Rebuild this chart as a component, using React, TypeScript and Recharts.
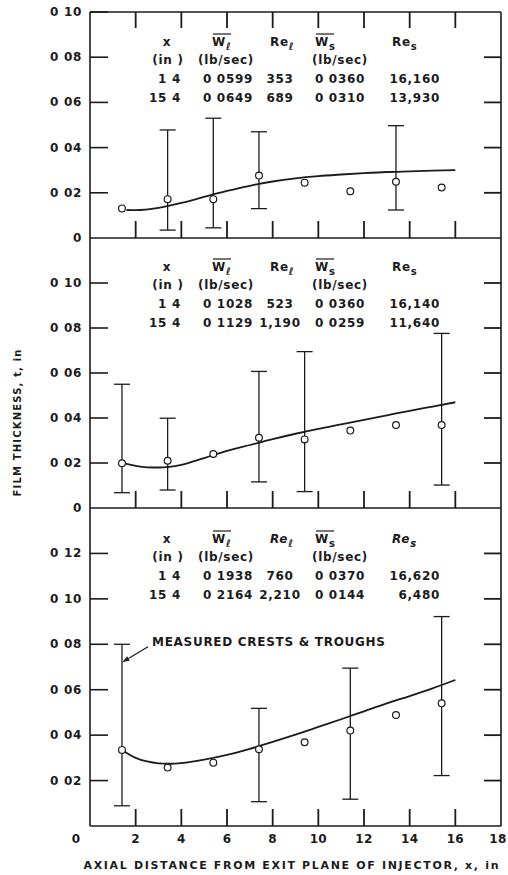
import React from 'react';
import { ComposedChart, Line, Scatter, XAxis, YAxis, ErrorBar, ReferenceLine } from 'recharts';

const W = 508;
const H = 875;
const ink = '#1b1b1b';
const font = '"DejaVu Sans", sans-serif';

// plot frame shared by the three panels
const plotLeft = 90;
const plotRight = 501;
const xMax = 18;

// axial stations, in
const stations = [1.4, 3.4, 5.4, 7.4, 9.4, 11.4, 13.4, 15.4];
const xTicks = [0, 2, 4, 6, 8, 10, 12, 14, 16, 18];

// panel 1 (lowest liquid flow)
const topMean = [0.0131, 0.0172, 0.0172, 0.0276, 0.0245, 0.0207, 0.0249, 0.0223];
const topLow = [null, 0.0035, 0.0045, 0.013, null, null, 0.0124, null];
const topHigh = [null, 0.0478, 0.053, 0.047, null, null, 0.0497, null];
const topFitX = [1.6, 2, 3, 4, 5, 6, 7, 8, 9, 10, 11, 12, 13, 14, 15, 16];
const topFit = [0.0124, 0.0123, 0.0133, 0.0155, 0.0182, 0.0208, 0.0231, 0.025, 0.0264, 0.0274, 0.0281, 0.0287, 0.0292, 0.0295, 0.0298, 0.03];

// panel 2
const midMean = [0.0199, 0.021, 0.024, 0.0312, 0.0305, 0.0344, 0.0369, 0.0369];
const midLow = [0.0068, 0.008, null, 0.0116, 0.0073, null, null, 0.0102];
const midHigh = [0.055, 0.0399, null, 0.0607, 0.0695, null, null, 0.0776];
const midFitX = [1.5, 2, 2.5, 3, 4, 5, 6, 7, 8, 9, 10, 11, 12, 13, 14, 15, 16];
const midFit = [0.0198, 0.0187, 0.0181, 0.018, 0.0192, 0.0222, 0.0254, 0.028, 0.0306, 0.033, 0.0352, 0.0372, 0.0392, 0.0412, 0.0432, 0.0451, 0.047];

// panel 3 (highest liquid flow)
const botMean = [0.0335, 0.0257, 0.0279, 0.0338, 0.0369, 0.042, 0.0489, 0.054];
const botLow = [0.0089, null, null, 0.0107, null, 0.0118, null, 0.0222];
const botHigh = [0.08, null, null, 0.0518, null, 0.0695, null, 0.0922];
const botFitX = [1.4, 2, 2.5, 3, 3.5, 4, 5, 6, 7, 8, 9, 10, 11, 12, 13, 14, 15, 16];
const botFit = [0.0335, 0.03, 0.0284, 0.0276, 0.0274, 0.0277, 0.0292, 0.0313, 0.034, 0.037, 0.0402, 0.0436, 0.047, 0.0505, 0.054, 0.0572, 0.0606, 0.0643];

// run conditions printed in each panel
const topTable = [
  ['1 4', '0 0599', '353', '0 0360', '16,160'],
  ['15 4', '0 0649', '689', '0 0310', '13,930'],
];
const midTable = [
  ['1 4', '0 1028', '523', '0 0360', '16,140'],
  ['15 4', '0 1129', '1,190', '0 0259', '11,640'],
];
const botTable = [
  ['1 4', '0 1938', '760', '0 0370', '16,620'],
  ['15 4', '0 2164', '2,210', '0 0144', '6,480'],
];

// callout on the first error bar of the lower panel
const noteFrom = { x: 2.54, y: 0.0789 };
const noteTo = { x: 1.42, y: 0.0722 };
const noteText = 'MEASURED CRESTS & TROUGHS';

const fmtY = (v: number) => (v === 0 ? '0' : '0 ' + String(Math.round(v * 100)).padStart(2, '0'));

const txt = {
  fontFamily: font,
  fontWeight: 'bold' as const,
  fontSize: 12,
  fill: ink,
  letterSpacing: 0.7,
};

const frame = { stroke: ink, strokeWidth: 1.6 };

type PanelDef = {
  fitX: number[];
  fit: number[];
  mean: number[];
  low: (number | null)[];
  high: (number | null)[];
  yMax: number;
  yTicks: number[];
  plotTop: number;
  plotBottom: number;
  topAxis?: boolean;
  xLabels?: boolean;
  note?: boolean;
};

const panels: PanelDef[] = [
  {
    fitX: topFitX, fit: topFit, mean: topMean, low: topLow, high: topHigh,
    yMax: 0.1, yTicks: [0, 0.02, 0.04, 0.06, 0.08, 0.1], plotTop: 12, plotBottom: 238, topAxis: true,
  },
  {
    fitX: midFitX, fit: midFit, mean: midMean, low: midLow, high: midHigh,
    yMax: 0.12, yTicks: [0, 0.02, 0.04, 0.06, 0.08, 0.1], plotTop: 238, plotBottom: 508,
  },
  {
    fitX: botFitX, fit: botFit, mean: botMean, low: botLow, high: botHigh,
    yMax: 0.14, yTicks: [0.02, 0.04, 0.06, 0.08, 0.1, 0.12], plotTop: 508, plotBottom: 826, xLabels: true, note: true,
  },
];

function buildPoints(mean: number[], low: (number | null)[], high: (number | null)[]) {
  const barred: any[] = [];
  const plain: any[] = [];
  stations.forEach((x, i) => {
    const lo = low[i];
    const hi = high[i];
    if (lo != null && hi != null) barred.push({ x, t: mean[i], err: [mean[i] - lo, hi - mean[i]] });
    else plain.push({ x, t: mean[i] });
  });
  return { barred, plain };
}

const Ring = (p: any) => <circle cx={p.cx} cy={p.cy} r={3.4} fill="#fff" stroke={ink} strokeWidth={1.2} />;

const LeftTick = (p: any) => {
  const v = p.payload.value;
  return (
    <g>
      {v > 0 && <line x1={p.x} x2={p.x + 18} y1={p.y} y2={p.y} stroke={ink} strokeWidth={1.6} />}
      <text x={p.x - 8} y={p.y} textAnchor="end" dominantBaseline="central" {...txt}>
        {fmtY(v)}
      </text>
    </g>
  );
};

const BottomLabel = (p: any) => {
  const v = p.payload.value;
  if (!p.labels) return <g />;
  const dx = v === 0 ? -14 : v === 18 ? -3 : 0;
  return (
    <text x={p.x + dx} y={p.y + 13} textAnchor="middle" dominantBaseline="central" {...txt} letterSpacing={0.3}>
      {v}
    </text>
  );
};

const NoteArrow = (p: any) => {
  const { x1, y1, x2, y2 } = p;
  const dx = x2 - x1;
  const dy = y2 - y1;
  const len = Math.hypot(dx, dy) || 1;
  const ux = dx / len;
  const uy = dy / len;
  const bx = x2 - ux * 7;
  const by = y2 - uy * 7;
  return (
    <g>
      <line x1={x1} y1={y1} x2={bx} y2={by} stroke={ink} strokeWidth={1.2} />
      <polygon
        points={`${x2},${y2} ${bx - uy * 2.6},${by + ux * 2.6} ${bx + uy * 2.6},${by - ux * 2.6}`}
        fill={ink}
      />
      <text x={x1 + 4} y={y1 - 5} dominantBaseline="central" textLength={233} lengthAdjust="spacing" {...txt} letterSpacing={0}>
        {noteText}
      </text>
    </g>
  );
};

function Panel({ fitX, fit, mean, low, high, yMax, yTicks, plotTop, plotBottom, topAxis, xLabels, note }: PanelDef) {
  const curve = fitX.map((x, i) => ({ x, t: fit[i] }));
  const { barred, plain } = buildPoints(mean, low, high);
  const axisH = 2;
  return (
    <div style={{ position: 'absolute', left: 0, top: 0 }}>
      <ComposedChart
        width={W}
        height={H}
        margin={{ top: plotTop - (topAxis ? axisH : 0), bottom: H - plotBottom - axisH, left: 0, right: 0 }}
      >
        <XAxis
          dataKey="x"
          type="number"
          domain={[0, xMax]}
          ticks={xTicks}
          interval={0}
          allowDataOverflow
          height={axisH}
          tickSize={0}
          tickMargin={0}
          axisLine={frame}
          tick={(p: any) => <BottomLabel {...p} labels={xLabels} />}
        />
        {topAxis && (
          <XAxis
            xAxisId="top"
            orientation="top"
            dataKey="x"
            type="number"
            domain={[0, xMax]}
            ticks={xTicks}
            interval={0}
            allowDataOverflow
            height={axisH}
            tickSize={0}
            tickMargin={0}
            axisLine={frame}
            tick={false}
          />
        )}
        <YAxis
          dataKey="t"
          type="number"
          domain={[0, yMax]}
          ticks={yTicks}
          interval={0}
          allowDataOverflow
          width={plotLeft}
          tickSize={0}
          tickMargin={0}
          axisLine={frame}
          tick={(p: any) => <LeftTick {...p} />}
        />
        <YAxis
          yAxisId="r"
          orientation="right"
          dataKey="t"
          type="number"
          domain={[0, yMax]}
          ticks={yTicks}
          interval={0}
          allowDataOverflow
          width={W - plotRight}
          tickSize={0}
          tickMargin={0}
          axisLine={frame}
          tick={false}
        />
        <Line data={curve} dataKey="t" type="monotone" stroke={ink} strokeWidth={1.8} dot={false} isAnimationActive={false} />
        <Scatter data={barred} dataKey="t" shape={Ring} isAnimationActive={false}>
          <ErrorBar dataKey="err" direction="y" width={8} stroke={ink} strokeWidth={1.3} />
        </Scatter>
        <Scatter data={plain} dataKey="t" shape={Ring} isAnimationActive={false} />
        {note && <ReferenceLine segment={[noteFrom, noteTo]} ifOverflow="visible" shape={NoteArrow} />}
      </ComposedChart>
    </div>
  );
}

// inward tick marks on the bottom, top and right borders of each panel
function FrameMarks() {
  const px = (v: number) => plotLeft + (v / xMax) * (plotRight - plotLeft);
  const inner = xTicks.filter((v) => v > 0 && v < xMax);
  return (
    <g>
      {panels.map((p, k) => {
        const py = (v: number) => p.plotBottom - (v / p.yMax) * (p.plotBottom - p.plotTop);
        const right = p.yTicks.filter((v) => v > 0 && v < p.yMax);
        return (
          <g key={k}>
            {inner.map((v) => (
              <path key={'b' + v} d={`M${px(v)} ${p.plotBottom}V${p.plotBottom - 17}`} stroke={ink} strokeWidth={1.8} fill="none" />
            ))}
            {p.topAxis &&
              inner.map((v) => (
                <path key={'t' + v} d={`M${px(v)} ${p.plotTop}V${p.plotTop + 16}`} stroke={ink} strokeWidth={1.8} fill="none" />
              ))}
            {right.map((v) => (
              <path key={'r' + v} d={`M${plotRight} ${py(v)}H${plotRight - 17}`} stroke={ink} strokeWidth={1.8} fill="none" />
            ))}
          </g>
        );
      })}
    </g>
  );
}

function Header({ x, y, base, sub, bar, italic }: { x: number; y: number; base: string; sub: string; bar?: boolean; italic?: boolean }) {
  return (
    <g>
      <text x={x} y={y} dominantBaseline="central" {...txt} fontStyle={italic ? 'italic' : 'normal'}>
        {base}
        <tspan dy={4} fontSize={10}>
          {sub}
        </tspan>
      </text>
      {bar && <line x1={x + 1} x2={x + 19} y1={y - 8} y2={y - 8} stroke={ink} strokeWidth={1.2} />}
    </g>
  );
}

function Table({ y0, rows, italicRe }: { y0: number; rows: string[][]; italicRe?: boolean }) {
  return (
    <g>
      <text x={167} y={y0} textAnchor="middle" dominantBaseline="central" {...txt}>x</text>
      <Header x={212} y={y0} base="W" sub="ℓ" bar />
      <Header x={270} y={y0} base="Re" sub="ℓ" italic={italicRe} />
      <Header x={315} y={y0} base="W" sub="s" bar />
      <Header x={392} y={y0} base="Re" sub="s" italic={italicRe} />
      <text x={168} y={y0 + 18} textAnchor="middle" dominantBaseline="central" {...txt}>(in )</text>
      <text x={226} y={y0 + 18} textAnchor="middle" dominantBaseline="central" {...txt}>(lb/sec)</text>
      <text x={340} y={y0 + 18} textAnchor="middle" dominantBaseline="central" {...txt}>(lb/sec)</text>
      {rows.map((r, i) => {
        const y = y0 + 37 + i * 19;
        return (
          <g key={i}>
            <text x={181} y={y} textAnchor="end" dominantBaseline="central" {...txt}>{r[0]}</text>
            <text x={228} y={y} textAnchor="middle" dominantBaseline="central" {...txt}>{r[1]}</text>
            <text x={280} y={y} textAnchor="middle" dominantBaseline="central" {...txt}>{r[2]}</text>
            <text x={340} y={y} textAnchor="middle" dominantBaseline="central" {...txt}>{r[3]}</text>
            <text x={440} y={y} textAnchor="end" dominantBaseline="central" {...txt}>{r[4]}</text>
          </g>
        );
      })}
    </g>
  );
}

export default function App() {
  return (
    <div style={{ position: 'absolute', left: 0, top: 0, width: W, height: H, background: '#fff', overflow: 'hidden' }}>
      {panels.map((p, k) => (
        <Panel key={k} {...p} />
      ))}
      <svg width={W} height={H} style={{ position: 'absolute', left: 0, top: 0, pointerEvents: 'none' }}>
        <FrameMarks />
        <Table y0={42} rows={topTable} />
        <Table y0={267} rows={midTable} />
        <Table y0={539} rows={botTable} italicRe />
        <text x={291} y={865} textAnchor="middle" dominantBaseline="central" textLength={415} lengthAdjust="spacing" {...txt} fontSize={11} letterSpacing={0}>
          AXIAL DISTANCE FROM EXIT PLANE OF INJECTOR, x, in
        </text>
        <text
          x={0}
          y={0}
          transform="translate(17,423) rotate(-90)"
          textAnchor="middle"
          dominantBaseline="central"
          textLength={147}
          lengthAdjust="spacing"
          {...txt}
          fontSize={10}
          letterSpacing={0}
        >
          FILM THICKNESS, t, in
        </text>
      </svg>
    </div>
  );
}
